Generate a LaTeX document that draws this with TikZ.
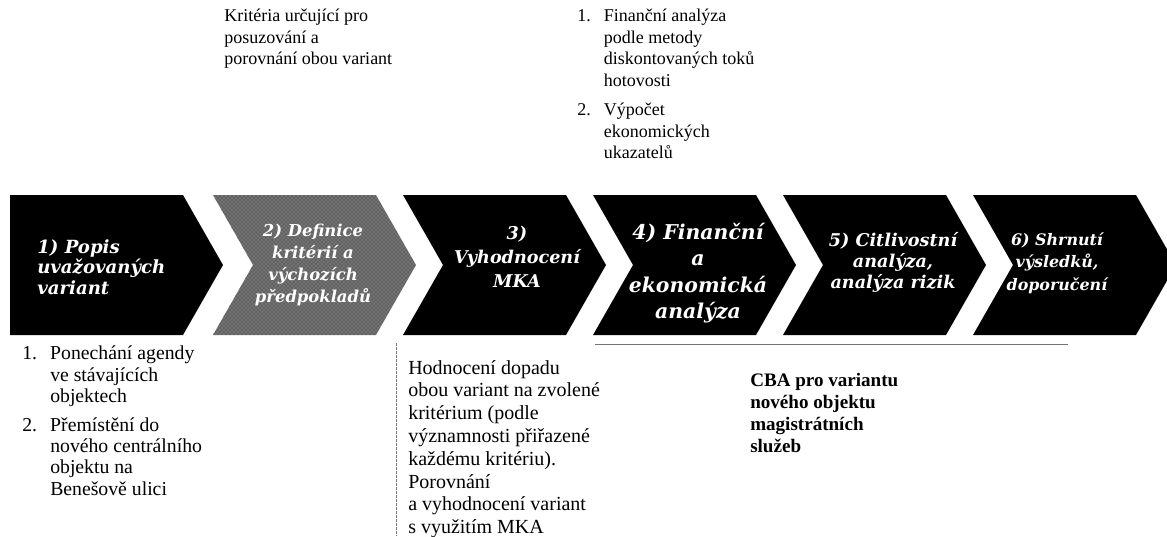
\documentclass[tikz,border=0pt]{standalone}
\usepackage{fontspec}
\setmainfont{Liberation Serif}
\newfontfamily\chevfont{DejaVu Serif}
\usepackage{tikz}
\usetikzlibrary{backgrounds,calc,patterns}

\begin{document}
\begin{tikzpicture}[x=0.75pt,y=-0.75pt,
  chev/.style={fill=black},
  chevgrey/.style={fill=black!55,postaction={pattern=crosshatch dots,pattern color=black!85}},
  lbl/.style={text=white,align=center,inner sep=0pt,
    font=\chevfont\bfseries\itshape\fontsize{12}{16}\selectfont},
  txt/.style={align=left,inner sep=0pt,anchor=north west,
    font=\fontsize{14.8}{16.1}\selectfont},
  rule/.style={black!55,line width=0.6pt}]
\useasboundingbox (0,0) rectangle (1167,536);

\fill[chev] (10,195) -- (183,195) -- (223,265) -- (183,335) -- (10,335) -- cycle;
\fill[chevgrey] (213,195) -- (376,195) -- (416,265) -- (376,335) -- (213,335) -- (253,265) -- cycle;
\fill[chev] (403,195) -- (566,195) -- (606,265) -- (566,335) -- (403,335) -- (443,265) -- cycle;
\fill[chev] (593,195) -- (756,195) -- (796,265) -- (756,335) -- (593,335) -- (633,265) -- cycle;
\fill[chev] (783,195) -- (946,195) -- (986,265) -- (946,335) -- (783,335) -- (823,265) -- cycle;
\fill[chev] (973,195) -- (1136,195) -- (1176,265) -- (1136,335) -- (973,335) -- (1013,265) -- cycle;

\node[lbl,align=left,anchor=west,font=\chevfont\bfseries\itshape\fontsize{13.6}{15.4}\selectfont]
  (popis) at (37,267) {1) Popis\\uvažovaných\\variant};
\node[lbl,font=\chevfont\bfseries\itshape\fontsize{12.3}{16.3}\selectfont]
  (definice) at (313,265) {2) Definice\\kritérií a\\výchozích\\předpokladů};
\node[lbl,font=\chevfont\bfseries\itshape\fontsize{13.2}{18}\selectfont]
  (mka) at (517,257) {3)\\Vyhodnocení\\MKA};
\node[lbl,font=\chevfont\bfseries\itshape\fontsize{15.3}{19.9}\selectfont]
  (financni) at (698,273) {4) Finanční\\a\\ekonomická\\analýza};
\node[lbl,font=\chevfont\bfseries\itshape\fontsize{13.2}{15.8}\selectfont]
  (citlivost) at (893,262) {5) Citlivostní\\analýza,\\analýza rizik};
\node[lbl,font=\chevfont\bfseries\itshape\fontsize{11.9}{16.9}\selectfont]
  (shrnuti) at (1057,263) {6) Shrnutí\\výsledků,\\doporučení};

\node[txt,font=\fontsize{13.5}{16.1}\selectfont] (kriteria) at (224,9)
  {Kritéria určující pro\\posuzování a\\porovnání obou variant};
\node[txt,font=\fontsize{13.5}{16.1}\selectfont] (analyzy) at (577,9)
  {\makebox[20pt][l]{1.}Finanční analýza\\
  \hspace*{20pt}podle metody\\\hspace*{20pt}diskontovaných toků\\\hspace*{20pt}hotovosti\\[6pt]
  \makebox[20pt][l]{2.}Výpočet\\\hspace*{20pt}ekonomických\\\hspace*{20pt}ukazatelů};

\node[txt] (varianty) at (22,346) {\makebox[21pt][l]{1.}Ponechání agendy\\
  \hspace*{21pt}ve stávajících\\\hspace*{21pt}objektech\\[5pt]
  \makebox[21pt][l]{2.}Přemístění do\\\hspace*{21pt}nového centrálního\\
  \hspace*{21pt}objektu na\\\hspace*{21pt}Benešově ulici};
\node[txt,font=\fontsize{15}{17.1}\selectfont] (hodnoceni) at (408,360)
  {Hodnocení dopadu\\obou variant na zvolené\\kritérium (podle\\významnosti přiřazené\\
   každému kritériu).\\Porovnání\\a vyhodnocení variant\\s využitím MKA};
\node[txt,font=\bfseries\fontsize{14.3}{16.5}\selectfont] (cba) at (750,373)
  {CBA pro variantu\\nového objektu\\magistrátních\\služeb};

\draw[rule,dash pattern=on 2pt off 1pt] (396,343) -- (396,536);
\draw[rule] (595,344) -- (1068,344);
\end{tikzpicture}
\end{document}
